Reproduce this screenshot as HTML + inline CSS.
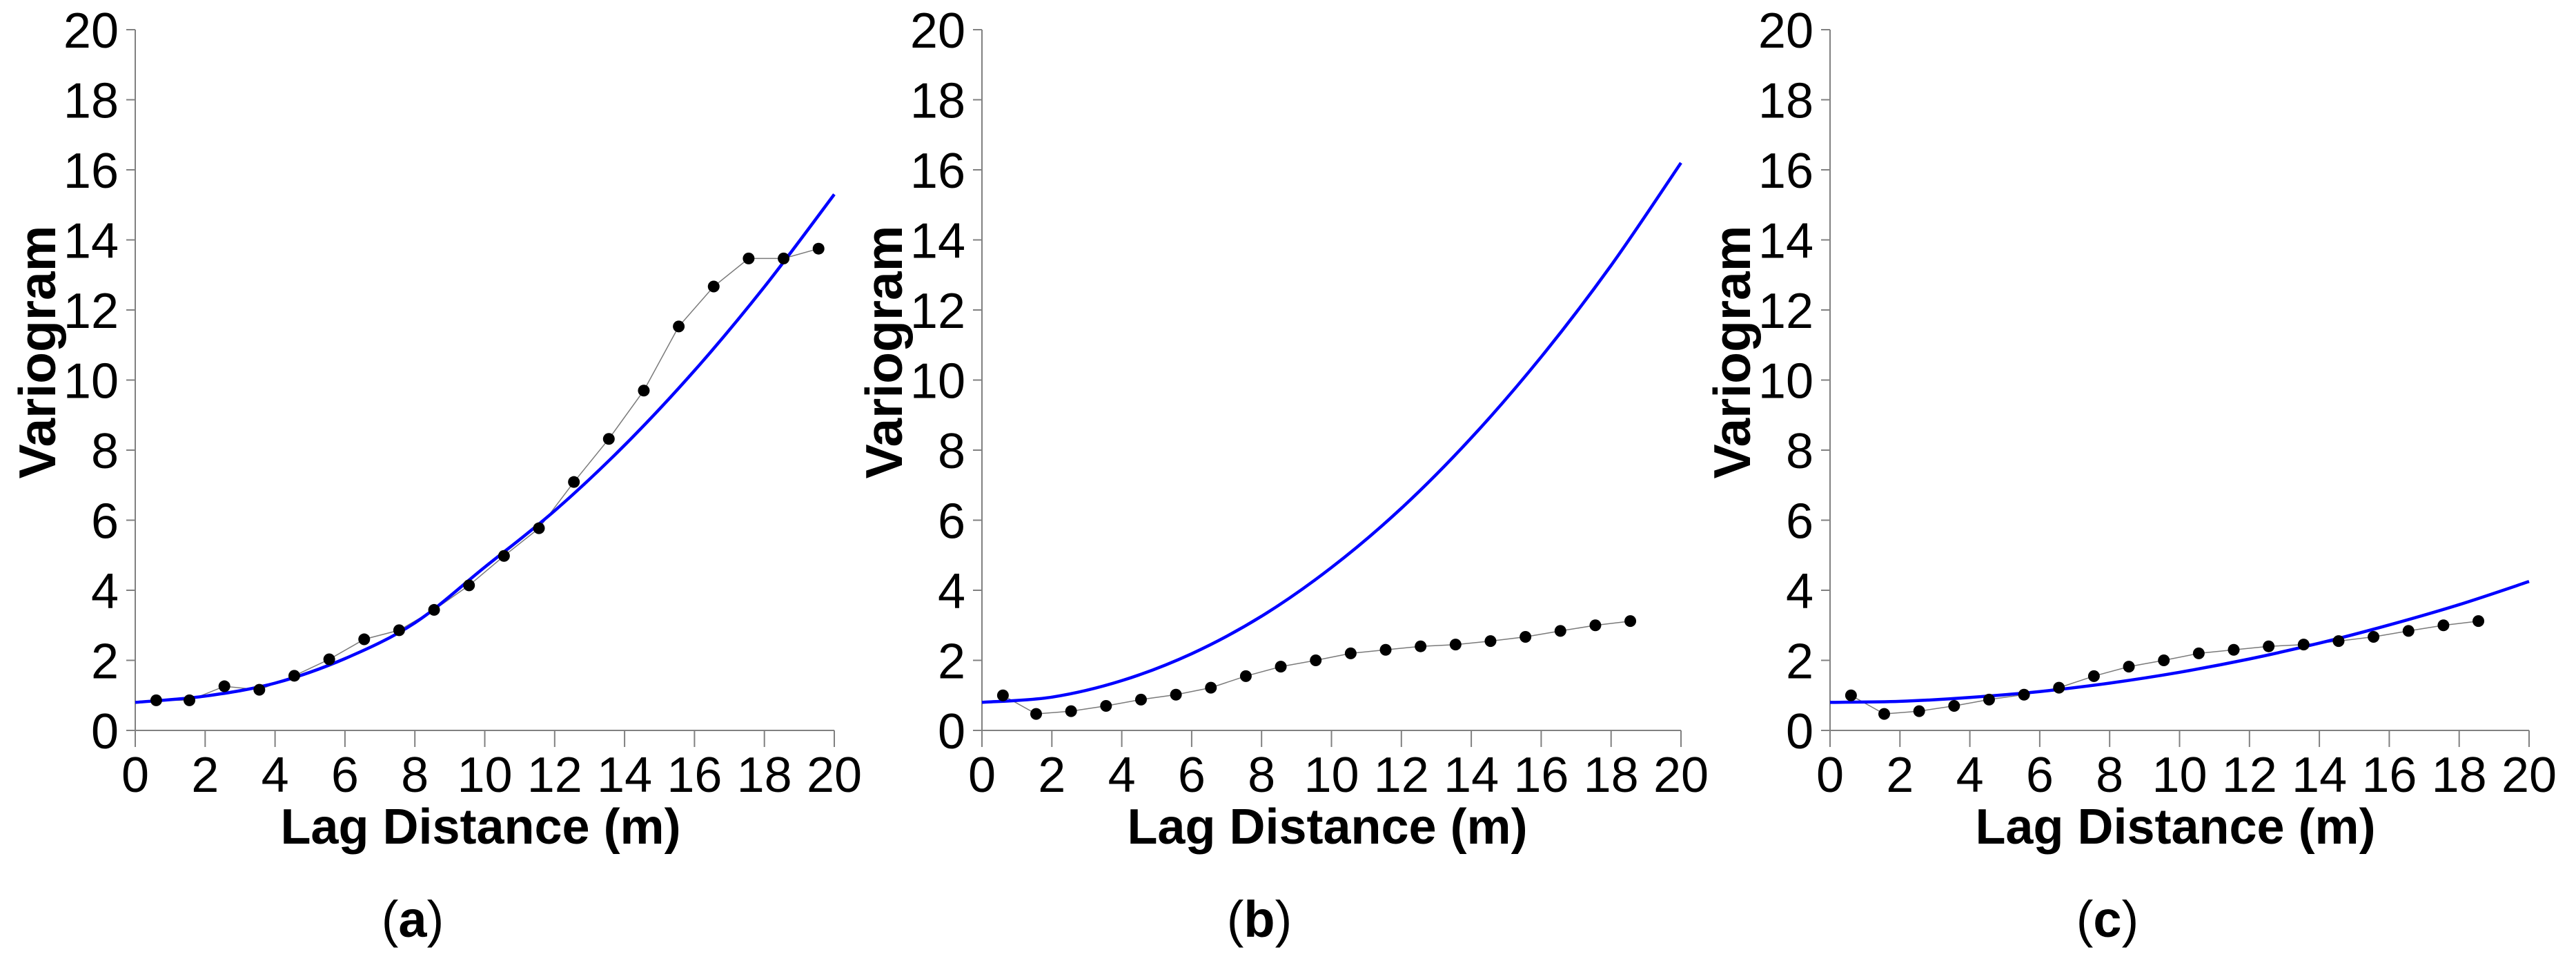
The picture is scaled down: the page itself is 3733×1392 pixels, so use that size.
<!DOCTYPE html>
<html><head><meta charset="utf-8"><style>
html,body{margin:0;padding:0;background:#fff;}
svg{display:block;}
text{font-family:"Liberation Sans",Arial,sans-serif;fill:#000;}
</style></head><body>
<svg id="fig" width="3733" height="1392" viewBox="0 0 3733 1392" xmlns="http://www.w3.org/2000/svg"></svg>
<script>
const xTicks = [0,2,4,6,8,10,12,14,16,18,20];
const yTicks = [0,2,4,6,8,10,12,14,16,18,20];
const panelLabels = ["a","b","c"];
const lagA = [0.6,1.55,2.55,3.55,4.55,5.55,6.55,7.55,8.55,9.55,10.55,11.55,12.55,13.55,14.55,15.55,16.55,17.55,18.55,19.55];
const expA = [0.86,0.86,1.26,1.16,1.56,2.03,2.6,2.86,3.44,4.14,4.98,5.77,7.09,8.32,9.7,11.53,12.67,13.47,13.47,13.75];
const lagBC = [0.6,1.55,2.55,3.55,4.55,5.55,6.55,7.55,8.55,9.55,10.55,11.55,12.55,13.55,14.55,15.55,16.55,17.55,18.55];
const expB = [1.0,0.47,0.55,0.7,0.88,1.02,1.22,1.55,1.82,2.0,2.2,2.3,2.4,2.45,2.55,2.67,2.84,3.0,3.12];
const expC = [1.0,0.47,0.55,0.7,0.88,1.02,1.22,1.55,1.82,2.0,2.2,2.3,2.4,2.45,2.55,2.67,2.84,3.0,3.12];
const modelLag = [0,2,4,6,8,10,12,14,16,18,20];
const modelA = [0.8,0.98,1.35,2.05,3.07,4.66,6.27,8.14,10.27,12.66,15.3];
const modelB = [0.8,0.95,1.42,2.19,3.26,4.65,6.34,8.35,10.66,13.27,16.2];
const modelC = [0.8,0.83,0.94,1.11,1.35,1.66,2.04,2.49,3.01,3.59,4.25];

const NS = "http://www.w3.org/2000/svg";
const svg = document.getElementById("fig");
const panelX0 = [196,1423,2652];
const PW = 1013, Y0 = 1058, Y20 = 43;
const expSeries = [[lagA,expA],[lagBC,expB],[lagBC,expC]];
const modelSeries = [modelA,modelB,modelC];

function mk(tag, attrs, parent){
  const e = document.createElementNS(NS, tag);
  for (const k in attrs) e.setAttribute(k, attrs[k]);
  (parent||svg).appendChild(e);
  return e;
}
function smoothPath(pts){
  let d = "M"+pts[0][0].toFixed(1)+","+pts[0][1].toFixed(1);
  for (let i=0;i<pts.length-1;i++){
    const p0=pts[Math.max(0,i-1)], p1=pts[i], p2=pts[i+1], p3=pts[Math.min(pts.length-1,i+2)];
    const c1=[p1[0]+(p2[0]-p0[0])/6, p1[1]+(p2[1]-p0[1])/6];
    const c2=[p2[0]-(p3[0]-p1[0])/6, p2[1]-(p3[1]-p1[1])/6];
    d += " C"+c1[0].toFixed(1)+","+c1[1].toFixed(1)+" "+c2[0].toFixed(1)+","+c2[1].toFixed(1)+" "+p2[0].toFixed(1)+","+p2[1].toFixed(1);
  }
  return d;
}

panelLabels.forEach((lab, p) => {
  const x0 = panelX0[p];
  const sx = v => x0 + v/20*PW;
  const sy = v => Y0 - v/20*(Y0-Y20);
  const g = mk("g", {});
  
  

  const ya = mk("line", {x1:x0,y1:Y20,x2:x0,y2:Y0,stroke:"#808080","stroke-width":2}, g);
  
  
  const xa = mk("line", {x1:x0,y1:Y0,x2:x0+PW,y2:Y0,stroke:"#808080","stroke-width":2}, g);
  
  

  yTicks.forEach(t => {
    const tk = mk("line", {x1:x0-13,y1:sy(t),x2:x0,y2:sy(t),stroke:"#808080","stroke-width":2}, g);
    
    
    const tl = mk("text", {x:x0-24,y:sy(t)+26,"font-size":72,"text-anchor":"end"}, g);
    tl.textContent = t;
    
    
  });
  xTicks.forEach(t => {
    const tk = mk("line", {x1:sx(t),y1:Y0,x2:sx(t),y2:Y0+24,stroke:"#808080","stroke-width":2}, g);
    
    
    const tl = mk("text", {x:sx(t),y:1147,"font-size":72,"text-anchor":"middle"}, g);
    tl.textContent = t;
    
    
  });

  const yt = mk("text", {x:0,y:0,"font-size":75,"font-weight":"bold","text-anchor":"middle",transform:"translate("+(x0-116)+",510) rotate(-90)"}, g);
  yt.textContent = "Variogram";
  
  
  const xt = mk("text", {x:x0+PW/2-6,y:1222,"font-size":72,"font-weight":"bold","text-anchor":"middle"}, g);
  xt.textContent = "Lag Distance (m)";
  
  

  const cap = mk("text", {x:x0+402,y:1357,"font-size":74,"text-anchor":"middle","font-family":"Liberation Serif, serif"}, g);
  cap.innerHTML = '(<tspan font-weight="bold">'+lab+'</tspan>)';
  
  

  const [lx, ly] = expSeries[p];
  const pts = lx.map((v,i)=>sx(v).toFixed(1)+","+sy(ly[i]).toFixed(1)).join(" ");
  const pl = mk("polyline", {points:pts,fill:"none",stroke:"#7a7a7a","stroke-width":1.5}, g);
  
  

  const mv = modelSeries[p];
  const mp = mk("path", {d:smoothPath(modelLag.map((v,i)=>[sx(v),sy(mv[i])])),fill:"none",stroke:"#0000ff","stroke-width":4.5}, g);
  
  

  lx.forEach((v,i) => {
    const c = mk("circle", {cx:sx(v),cy:sy(ly[i]),r:8.5,fill:"#000"}, g);
    
    
  });
});
</script>
</body></html>
